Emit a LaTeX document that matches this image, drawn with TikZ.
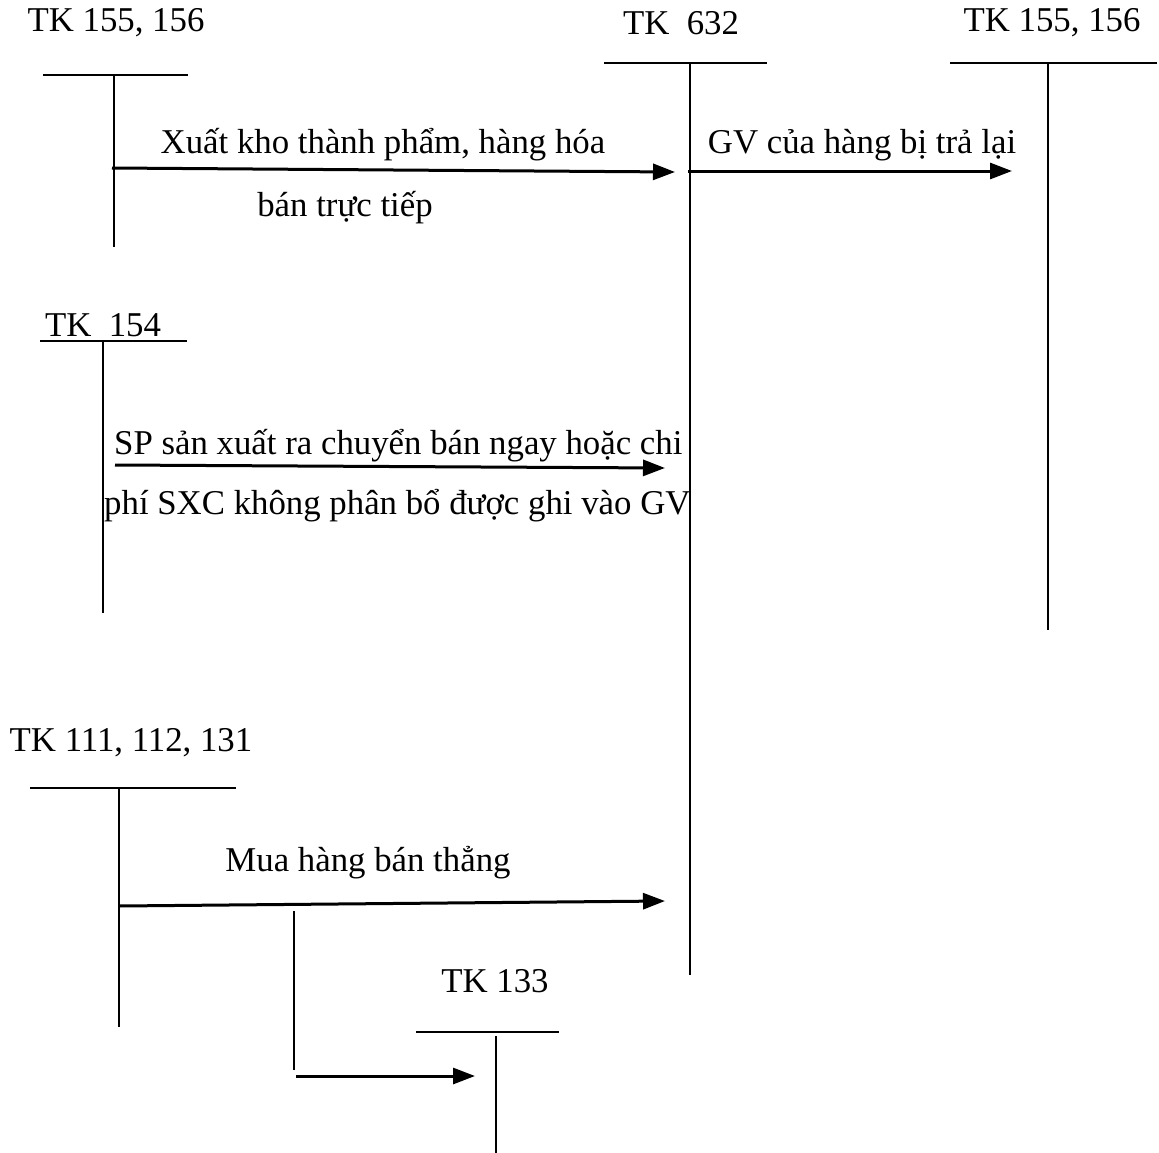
\documentclass[tikz,border=0pt]{standalone}
\usepackage{fontspec}
\setmainfont{Liberation Serif}
\usetikzlibrary{arrows.meta}
\begin{document}
\begin{tikzpicture}[x=1pt,y=-1pt,
  lbl/.style={inner sep=0pt,font=\fontsize{34.8}{40}\selectfont},
  tline/.style={line width=2pt},
  arr/.style={line width=3pt,-{Triangle[length=22pt,width=16pt]}}]
\useasboundingbox (0,0) rectangle (1159,1153);
% TK 155,156 left
\node[lbl] (l1) at (116,23) {TK 155, 156};
\coordinate (a1) at (43,75); \coordinate (a2) at (188,75);
\coordinate (a3) at (114,75); \coordinate (a4) at (114,247);
\draw[tline] (a1) -- (a2);
\draw[tline] (a3) -- (a4);
% TK 632
\node[lbl] (l2) at (681,23) {TK\ \ 632};
\coordinate (b1) at (604,63); \coordinate (b2) at (767,63);
\coordinate (b3) at (690,63); \coordinate (b4) at (690,975);
\draw[tline] (b1) -- (b2);
\draw[tline] (b3) -- (b4);
% TK 155,156 right
\node[lbl] (l3) at (1052,23) {TK 155, 156};
\coordinate (c1) at (950,63); \coordinate (c2) at (1157,63);
\coordinate (c3) at (1048,63); \coordinate (c4) at (1048,630);
\draw[tline] (c1) -- (c2);
\draw[tline] (c3) -- (c4);
% TK 154
\node[lbl] (l4) at (103,325) {TK\ \ 154};
\coordinate (d1) at (40,341); \coordinate (d2) at (187,341);
\coordinate (d3) at (103,341); \coordinate (d4) at (103,613);
\draw[tline] (d1) -- (d2);
\draw[tline] (d3) -- (d4);
% TK 111,112,131
\node[lbl] (l5) at (131,743) {TK 111, 112, 131};
\coordinate (e1) at (30,788); \coordinate (e2) at (236,788);
\coordinate (e3) at (119,788); \coordinate (e4) at (119,1027);
\draw[tline] (e1) -- (e2);
\draw[tline] (e3) -- (e4);
% TK 133
\node[lbl] (l6) at (495,981) {TK 133};
\coordinate (f1) at (416,1032); \coordinate (f2) at (559,1032);
\coordinate (f3) at (496,1036); \coordinate (f4) at (496,1153);
\draw[tline] (f1) -- (f2);
\draw[tline] (f3) -- (f4);
% arrows
\coordinate (s1) at (112,168); \coordinate (t1) at (675,172);
\draw[arr] (s1) -- (t1);
\node[lbl] (x1) at (383,145) {Xuất kho thành phẩm, hàng hóa};
\node[lbl] (x2) at (345,208) {bán trực tiếp};
\coordinate (s2) at (688,171); \coordinate (t2) at (1012,171);
\draw[arr] (s2) -- (t2);
\node[lbl] (x3) at (862,145) {GV của hàng bị trả lại};
\coordinate (s3) at (115,465); \coordinate (t3) at (665,468);
\draw[arr] (s3) -- (t3);
\node[lbl,anchor=west] (x4) at (114,446) {SP sản xuất ra chuyển bán ngay hoặc chi};
\node[lbl,anchor=west] (x5) at (104,506) {phí SXC không phân bổ được ghi vào GV};
\coordinate (s4) at (119,906); \coordinate (t4) at (665,901);
\draw[arr] (s4) -- (t4);
\node[lbl] (x6) at (368,863) {Mua hàng bán thẳng};
\coordinate (g1) at (294,911); \coordinate (g2) at (294,1070);
\draw[tline] (g1) -- (g2);
\coordinate (s5) at (296,1076); \coordinate (t5) at (475,1076);
\draw[arr] (s5) -- (t5);
\end{tikzpicture}
\end{document}
